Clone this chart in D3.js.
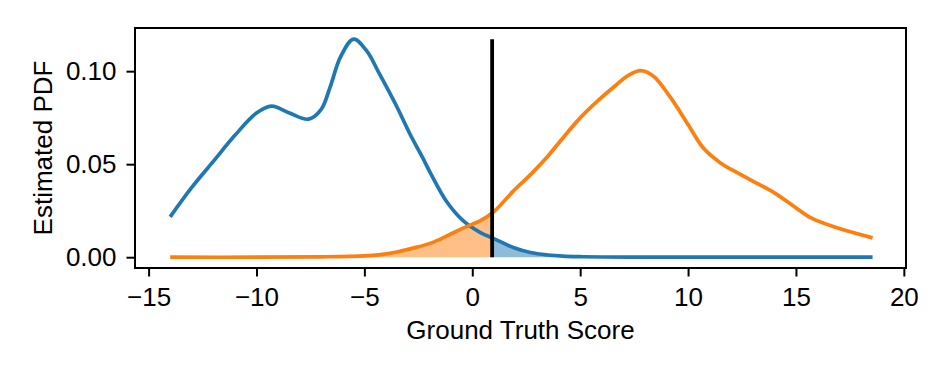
<!DOCTYPE html>
<html>
<head>
<meta charset="utf-8">
<script src="https://cdn.jsdelivr.net/npm/d3@7"></script>
<style>
  body { margin: 0; background: #fff; }
  svg text { font-family: "Liberation Sans", Arial, sans-serif; fill: #000; }
</style>
</head>
<body>
<div class="chart"></div>
<script>
// values
var blueX = [-14, -13, -12, -11, -10, -9.3, -8.5, -7.6, -7, -6.6, -6.1, -5.5, -4.9, -4.3, -3.5, -2.9, -2.3, -1.9, -1.2, -0.4, 0.4, 1.0, 1.9, 2.7, 3.5, 4.2, 5, 6, 8, 10, 12, 14, 16, 18.55];
var blueY = [0.0217, 0.0375, 0.0515, 0.0655, 0.0775, 0.0812, 0.0777, 0.0742, 0.0795, 0.091, 0.1078, 0.1172, 0.111, 0.0985, 0.081, 0.0665, 0.0535, 0.0444, 0.0301, 0.0194, 0.0131, 0.0100, 0.0052, 0.0025, 0.0012, 0.0006, 0.0003, 0.0001, 0, 0, 0, 0, 0, 0];

var orangeX = [-14, -10, -7, -5, -4.25, -3.5, -2.7, -1.9, -1.2, -0.4, 0.4, 1.0, 1.9, 2.7, 3.5, 4.2, 5, 5.8, 6.6, 7.2, 7.8, 8.4, 9.2, 10, 10.7, 11.5, 12.3, 13, 14, 14.9, 15.7, 16.9, 18.55];
var orangeY = [0, 0, 0.0002, 0.0007, 0.0014, 0.0028, 0.005, 0.0077, 0.0113, 0.0158, 0.0198, 0.0245, 0.0355, 0.0444, 0.0543, 0.0641, 0.0749, 0.0839, 0.0919, 0.0975, 0.1003, 0.0973, 0.0856, 0.0713, 0.0588, 0.0507, 0.0453, 0.0409, 0.0346, 0.0274, 0.0211, 0.0158, 0.0104];

var threshold = 0.92;
var thresholdTop = 0.1172;

var xTicks = [-15, -10, -5, 0, 5, 10, 15, 20];
var yTicks = [0, 0.05, 0.10];

var width = 947, height = 379;
var margin = { top: 28, right: 41, bottom: 111, left: 135 };
var w = width - margin.left - margin.right;
var h = height - margin.top - margin.bottom;

var svg = d3.select(".chart")
  .append("svg")
    .attr("width", width)
    .attr("height", height);

var g = svg.append("g")
    .attr("transform", "translate(" + margin.left + "," + margin.top + ")");

var x = d3.scaleLinear().domain([-15.63, 20.1]).range([0, w]);
var y = d3.scaleLinear().domain([-0.0058, 0.1232]).range([h, 0]);

var blue = blueX.map(function(d, i) { return [d, blueY[i]]; });
var orange = orangeX.map(function(d, i) { return [d, orangeY[i]]; });

var line = d3.line()
  .x(function(d) { return x(d[0]); })
  .y(function(d) { return y(d[1]); })
  .curve(d3.curveCatmullRom.alpha(0.5));

var area = d3.area()
  .x(function(d) { return x(d[0]); })
  .y0(y(0))
  .y1(function(d) { return y(d[1]); })
  .curve(d3.curveCatmullRom.alpha(0.5));

// clip regions either side of the threshold
var defs = svg.append("defs");
defs.append("clipPath").attr("id", "leftClip")
  .append("rect")
    .attr("x", 0).attr("y", 0)
    .attr("width", x(threshold)).attr("height", h);
defs.append("clipPath").attr("id", "rightClip")
  .append("rect")
    .attr("x", x(threshold)).attr("y", 0)
    .attr("width", w - x(threshold)).attr("height", h);

g.append("path")
  .attr("d", area(orange))
  .attr("clip-path", "url(#leftClip)")
  .style("fill", "#ff7f0e")
  .style("opacity", 0.5);

g.append("path")
  .attr("d", area(blue))
  .attr("clip-path", "url(#rightClip)")
  .style("fill", "#1f77b4")
  .style("opacity", 0.5);

g.append("path")
  .attr("d", line(blue))
  .style("fill", "none")
  .style("stroke", "#1f77b4")
  .style("stroke-width", 3.7);

g.append("path")
  .attr("d", line(orange))
  .style("fill", "none")
  .style("stroke", "#ff7f0e")
  .style("stroke-width", 3.7);

g.append("line")
  .attr("x1", x(threshold)).attr("x2", x(threshold))
  .attr("y1", y(0)).attr("y2", y(thresholdTop))
  .style("stroke", "#000")
  .style("stroke-width", 3.8);

// frame
g.append("rect")
  .attr("x", 0).attr("y", 0)
  .attr("width", w).attr("height", h)
  .style("fill", "none")
  .style("stroke", "#000")
  .style("stroke-width", 2);

// axes
var xAxis = g.append("g")
  .attr("transform", "translate(0," + h + ")")
  .call(d3.axisBottom(x).tickValues(xTicks).tickSize(8.5).tickPadding(11).tickSizeOuter(0));
var yAxis = g.append("g")
  .call(d3.axisLeft(y).tickValues(yTicks).tickFormat(d3.format(".2f")).tickSize(8.5).tickPadding(10).tickSizeOuter(0));

[xAxis, yAxis].forEach(function(a) {
  a.select(".domain").remove();
  a.selectAll(".tick line").style("stroke", "#000").style("stroke-width", 2);
  a.selectAll(".tick text")
    .style("font-size", "26px")
    .style("font-family", "'Liberation Sans', Arial, sans-serif");
});

// axis titles
svg.append("text")
  .attr("x", margin.left + w / 2)
  .attr("y", 339)
  .style("text-anchor", "middle")
  .style("font-size", "26px")
  .text("Ground Truth Score");

svg.append("text")
  .attr("transform", "translate(52," + (margin.top + h / 2) + ") rotate(-90)")
  .style("text-anchor", "middle")
  .style("font-size", "26px")
  .text("Estimated PDF");
</script>
</body>
</html>
